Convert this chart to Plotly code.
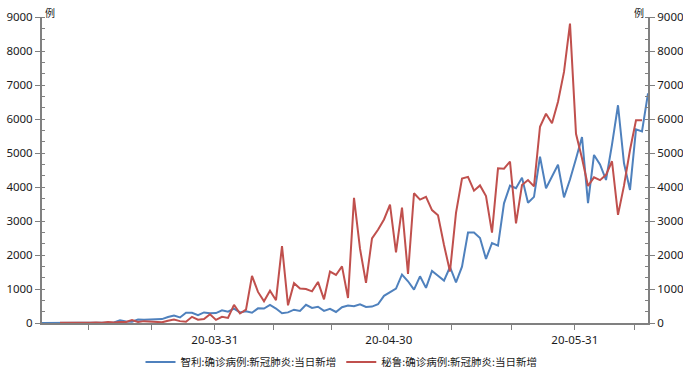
import plotly.graph_objects as go
import pandas as pd

# Chart dates (one point per day)
dates = [d.strftime("%Y-%m-%d") for d in pd.date_range("2020-03-02", "2020-06-11", freq="D")]

# 智利: daily new confirmed cases
chile = [1, 2, 1, 1, 2, 3, 3, 4, 6, 10, 10, 18, 14, 81, 45, 37, 104, 92, 103, 95,
         114, 176, 220, 164, 304, 299, 230, 310, 289,
         293, 373, 333, 424, 310, 344, 301, 430, 426, 529, 426, 286, 312, 392, 356, 534,
         445, 478, 358, 419, 325, 464, 516, 494, 552, 473, 482, 552, 800, 910,
         1010, 1427, 1228, 980, 1373, 1032, 1533, 1391, 1247, 1647, 1197, 1658, 2660, 2659,
         2502, 1886, 2353, 2278, 3520, 4038, 3964, 4276, 3536, 3709, 4895, 3964, 4328, 4654,
         3695, 4220, 4830,
         5471, 3527, 4942, 4664, 4207, 5246, 6405, 4696, 3913, 5697, 5636, 6754]

# 秘鲁: daily new confirmed cases
peru = [None, None, None,
        5, 1, 2, 2, 6, 5, 16, 5, 28, 15, 31, 28, 89, 29, 55, 45, 32, 21, 64, 100, 55, 36,
        181, 98, 115,
        258, 91, 181, 151, 535, 280, 393, 1388, 914, 641, 951, 671, 2265, 519, 1172, 1016,
        998, 931, 1208, 697, 1512, 1413, 1664, 734, 3683, 2186, 1182, 2491, 2741, 3045,
        3483, 2075, 3394, 1444, 3817, 3628, 3709, 3321, 3168, 2292, 1515, 3237, 4247, 4298,
        3891, 4046, 3732, 2660, 4550, 4537, 4749, 2929, 4056, 4205, 4020, 5772, 6154, 5874,
        6506, 7386, 8805,
        5563, 4845, 4030, 4284, 4202, 4358, 4757, 3181, 4040, 5087, 5965, 5961, None]

series_names = ["智利:确诊病例:新冠肺炎:当日新增", "秘鲁:确诊病例:新冠肺炎:当日新增"]
series_colors = ["#4F81BD", "#C0504D"]

# x-axis ticks (positions in point index) and labels
tick_pos = [7.7, 18.3, 28.8, 38.5, 48.2, 57.8, 68.2, 78.3, 88.8, 98.8]
tick_labels = ["", "", "20-03-31", "", "", "20-04-30", "", "", "20-05-31", ""]

unit_label = "例"

idx = list(range(len(dates)))

fig = go.Figure()
fig.add_trace(go.Scatter(x=idx, y=chile, customdata=dates, mode="lines",
                         name=series_names[0],
                         line=dict(color=series_colors[0], width=2),
                         hovertemplate="%{customdata}: %{y}<extra></extra>"))
fig.add_trace(go.Scatter(x=idx, y=peru, customdata=dates, mode="lines",
                         name=series_names[1], yaxis="y2",
                         line=dict(color=series_colors[1], width=2),
                         hovertemplate="%{customdata}: %{y}<extra></extra>"))

axis_color = "#808080"
num_font = dict(family="Noto Sans, Liberation Sans, Arial", size=11.5, color="#1a1a1a")

yaxis_common = dict(range=[0, 9000], dtick=1000, tick0=0, showgrid=False, zeroline=False,
                    showline=True, linecolor=axis_color, linewidth=2,
                    ticks="outside", ticklen=5, tickwidth=1, tickcolor=axis_color,
                    minor=dict(ticks="inside", ticklen=3, dtick=1000 / 3, tickcolor=axis_color,
                               tickwidth=1, showgrid=False),
                    tickfont=num_font, fixedrange=True, automargin=False)

fig.update_layout(
    width=683, height=379,
    margin=dict(l=42, r=35, t=17, b=56),
    paper_bgcolor="white", plot_bgcolor="white",
    showlegend=True,
    legend=dict(orientation="h", x=0.5, xanchor="center", xref="container",
                y=1 - 362 / 379, yanchor="middle", yref="container",
                font=dict(family="Noto Sans CJK SC", size=10.5, color="#1a1a1a"),
                itemwidth=30, tracegroupgap=0),
    xaxis=dict(range=[0, len(dates) - 1], tickmode="array", tickvals=tick_pos,
               ticktext=tick_labels, showgrid=False, zeroline=False,
               showline=True, linecolor=axis_color, linewidth=2,
               ticks="outside", ticklen=5, tickwidth=1, tickcolor=axis_color,
               tickfont=num_font, tickangle=0, automargin=False, fixedrange=True),
    yaxis=dict(**yaxis_common, side="left"),
    yaxis2=dict(**yaxis_common, side="right", overlaying="y"),
    annotations=[
        dict(text=unit_label, xref="paper", yref="paper", x=0, y=1, xanchor="left",
             yanchor="bottom", xshift=1, yshift=-5, showarrow=False,
             font=dict(family="Noto Sans CJK SC", size=10, color="#1a1a1a")),
        dict(text=unit_label, xref="paper", yref="paper", x=1, y=1, xanchor="right",
             yanchor="bottom", xshift=-2, yshift=-5, showarrow=False,
             font=dict(family="Noto Sans CJK SC", size=10, color="#1a1a1a")),
    ],
)

fig.write_html("out.html",
               config={"displayModeBar": False},
               post_script="document.body.style.margin='0';document.body.style.overflow='hidden';")
